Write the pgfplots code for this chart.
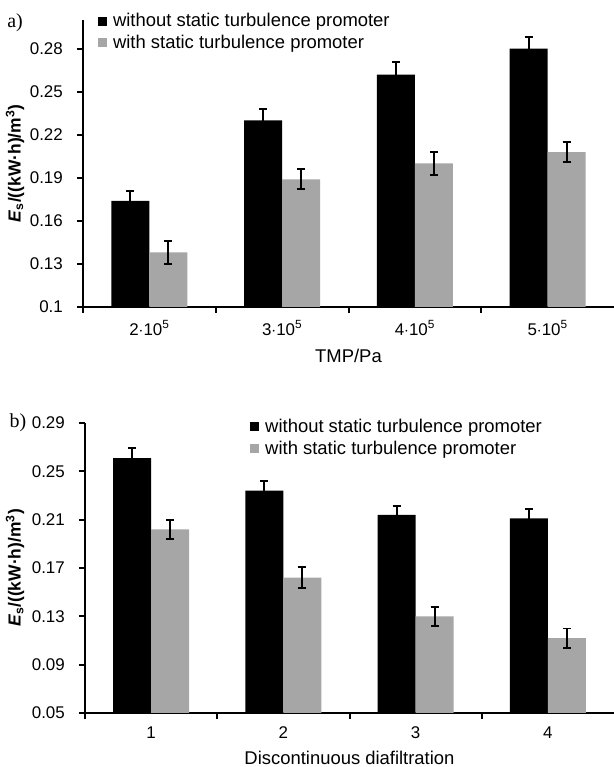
\documentclass[border=0pt]{standalone}
\usepackage{fontspec}
\setmainfont{Liberation Sans}
\newfontfamily\seriffont{Liberation Serif}
\usepackage{pgfplots}
\pgfplotsset{compat=1.18}
\definecolor{bargray}{RGB}{166,166,166}

\pgfplotstableread{
x y e
1 0.174 0.007
2 0.230 0.008
3 0.262 0.009
4 0.280 0.008
}\aBlack
\pgfplotstableread{
x y e
1 0.138 0.008
2 0.189 0.007
3 0.200 0.008
4 0.208 0.007
}\aGray
\pgfplotstableread{
x y e
1 0.261 0.008
2 0.234 0.008
3 0.214 0.0075
4 0.211 0.008
}\bBlack
\pgfplotstableread{
x y e
1 0.202 0.008
2 0.162 0.0086
3 0.130 0.008
4 0.112 0.008
}\bGray

\pgfplotsset{
  mybars/.style={
    scale only axis,
    ybar=0pt, bar width=38bp,
    xmin=0.5, xmax=4.5,
    axis x line*=bottom, axis y line*=left,
    axis line style={-, line width=2bp},
    tick align=outside,
    xtick={1,2,3,4},
    major x tick style={draw=none},
    minor xtick={0.5,1.5,2.5,3.5},
    minor x tick style={line width=2bp, black},
    major y tick style={line width=2bp, black},
    major tick length=6bp, minor tick length=6bp,
    tick label style={font=\fontsize{17}{20}\selectfont},
    yticklabel style={anchor=east, inner sep=0pt, xshift=-14bp},
    xticklabel style={anchor=center, inner sep=0pt},
    label style={font=\fontsize{18.5}{22}\selectfont},
    legend style={draw=none, fill=none, font=\fontsize{18.5}{21}\selectfont,
      anchor=north west, row sep=3bp, inner sep=0pt,
      cells={anchor=west}},
    clip=false,
  },
  sq/.style={legend image code/.code={\fill[##1] (0bp,-4.5bp) rectangle (9bp,4.5bp); \path (13bp,0bp);}},
  eb/.style={error bars/.cd, y dir=both, y explicit,
      error bar style={line width=1.8bp, black},
      error mark options={rotate=90, mark size=4bp, line width=1.8bp, black}},
}

\begin{document}
\begin{tikzpicture}
\useasboundingbox (0,0) rectangle (614bp,767bp);

% ---------- panel a ----------
\begin{axis}[mybars,
  at={(83bp,460bp)}, anchor=south west,
  width=531bp, height=287bp,
  ymin=0.1, ymax=0.30,
  ytick={0.1,0.13,0.16,0.19,0.22,0.25,0.28},
  yticklabels={0.1,0.13,0.16,0.19,0.22,0.25,0.28},
  xticklabels={2$\cdot$10\textsuperscript{5},3$\cdot$10\textsuperscript{5},4$\cdot$10\textsuperscript{5},5$\cdot$10\textsuperscript{5}},
  xticklabel style={yshift=-15bp},
  xlabel={TMP/Pa},
  xlabel style={at={(rel axis cs:0.5,-0.171)}, anchor=center},
  ylabel={\textbf{\textit{E}\textsubscript{s}/((kW·h)/m\textsuperscript{3})}},
  ylabel style={at={(rel axis cs:-0.128,0.5)}, anchor=center, font=\fontsize{17.5}{20}\selectfont},
  legend style={at={(rel axis cs:0.028,1.03)}},
]
\addplot[fill=black, draw=none, sq, eb] table[x=x, y=y, y error=e] {\aBlack};
\addplot[fill=bargray, draw=none, sq, eb] table[x=x, y=y, y error=e] {\aGray};
\legend{without static turbulence promoter, with static turbulence promoter}
\end{axis}
\node[font=\seriffont\fontsize{20}{24}\selectfont] at (15bp,744bp) {a)};

% ---------- panel b ----------
\begin{axis}[mybars,
  at={(85bp,54bp)}, anchor=south west,
  width=529bp, height=290bp,
  ymin=0.05, ymax=0.29,
  ytick={0.05,0.09,0.13,0.17,0.21,0.25,0.29},
  yticklabels={0.05,0.09,0.13,0.17,0.21,0.25,0.29},
  xticklabels={1,2,3,4},
  xticklabel style={yshift=-14bp},
  xlabel={Discontinuous diafiltration},
  xlabel style={at={(rel axis cs:0.5,-0.155)}, anchor=center},
  ylabel={\textbf{\textit{E}\textsubscript{s}/((kW·h)/m\textsuperscript{3})}},
  ylabel style={at={(rel axis cs:-0.132,0.5)}, anchor=center, font=\fontsize{17.5}{20}\selectfont},
  legend style={at={(rel axis cs:0.312,1.02)}},
]
\addplot[fill=black, draw=none, sq, eb] table[x=x, y=y, y error=e] {\bBlack};
\addplot[fill=bargray, draw=none, sq, eb] table[x=x, y=y, y error=e] {\bGray};
\legend{without static turbulence promoter, with static turbulence promoter}
\end{axis}
\node[font=\seriffont\fontsize{20}{24}\selectfont] at (18bp,344bp) {b)};
\end{tikzpicture}
\end{document}
